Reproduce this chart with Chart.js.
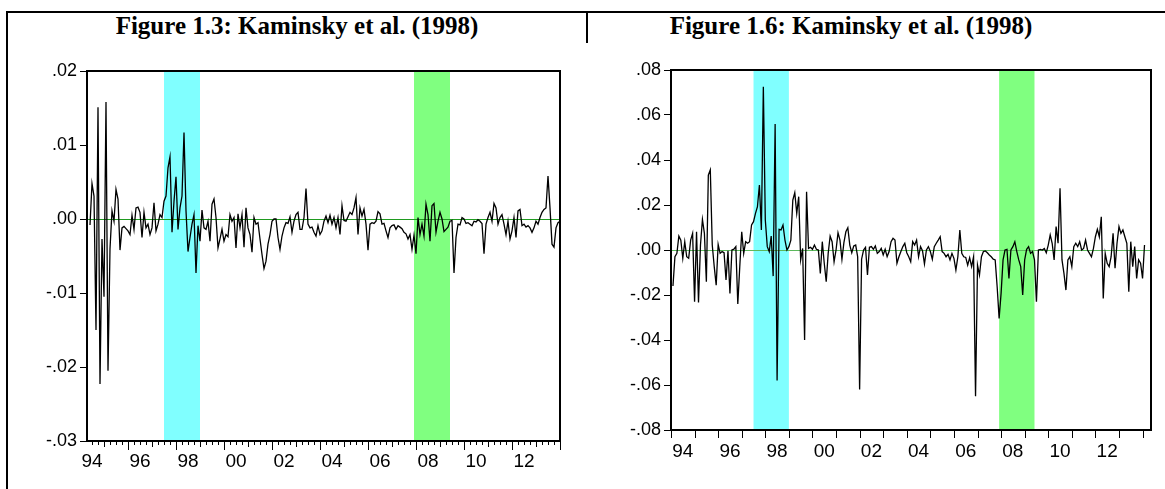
<!DOCTYPE html>
<html>
<head>
<meta charset="utf-8">
<script src="https://cdn.jsdelivr.net/npm/chart.js@4.4.1/dist/chart.umd.min.js"></script>
<style>
  html, body { margin: 0; padding: 0; background: #fff; }
  body { width: 1165px; height: 489px; position: relative; overflow: hidden; }
  .rule { position: absolute; background: #000; }
  .title { position: absolute; top: 12px; font: bold 25px "Liberation Serif", "Times New Roman", serif; color: #000; text-align: center; white-space: nowrap; }
  .box { position: absolute; top: 50px; width: 575px; height: 439px; }
</style>
</head>
<body>
<div class="rule" style="left:6px;top:11px;width:1159px;height:2px"></div>
<div class="rule" style="left:6px;top:11px;width:2px;height:478px"></div>
<div class="rule" style="left:586px;top:11px;width:2px;height:32px"></div>
<div class="title" style="left:8px;width:578px">Figure 1.3: Kaminsky et al. (1998)</div>
<div class="title" style="left:588px;width:526px">Figure 1.6: Kaminsky et al. (1998)</div>
<div class="box" style="left:0"><canvas id="chartLeft"></canvas></div>
<div class="box" style="left:590px"><canvas id="chartRight"></canvas></div>

<script>
/* ================================
   DATA
================================ */
const BASE_YEAR = 1994;

// x-axis labels (even years), placed mid-year
const labelYears = [1994, 1996, 1998, 2000, 2002, 2004, 2006, 2008, 2010, 2012];
const tickLabels = ['94', '96', '98', '00', '02', '04', '06', '08', '10', '12'];

// shaded crisis periods [from, to]
const cyanBand = ['1997-07', '1999-01'];
const greenBand = ['2007-12', '2009-06'];

// Figure 1.3 : monthly, starts 1994-06
const leftStart = '1994-06';
const leftSeries = [
  -0.0008, 0.0048, 0.0031, -0.0150, 0.0151, -0.0223, -0.0027, -0.0105, 0.0158, -0.0205,
  -0.0040, 0.0011, -0.0003, 0.0040, 0.0027, -0.0042, -0.0012, -0.0010, -0.0013, -0.0016,
  -0.0021, 0.0005, -0.0014, 0.0015, 0.0016, 0.0009, -0.0025, 0.0009, -0.0012, -0.0007,
  -0.0021, -0.0012, 0.0022, -0.0016, -0.0007, 0.0006, 0.0002, 0.0024, 0.0031, 0.0069,
  0.0084, -0.0018, 0.0024, 0.0057, -0.0014, 0.0015, 0.0031, 0.0117, 0.0011, -0.0044,
  -0.0025, -0.0007, 0.0006, -0.0073, -0.0009, -0.0030, 0.0012, -0.0012, -0.0014, -0.0003,
  -0.0030, 0.0020, 0.0027, 0.0002, -0.0039, -0.0027, -0.0014, -0.0030, -0.0021, -0.0024,
  0.0006, -0.0003, 0.0002, -0.0039, 0.0007, -0.0012, 0.0006, -0.0038, 0.0015, -0.0012,
  -0.0021, -0.0045, 0.0002, -0.0007, -0.0005, -0.0027, -0.0048, -0.0067, -0.0057, -0.0034,
  -0.0021, -0.0003, 0.0000, 0.0000, -0.0025, -0.0041, -0.0023, -0.0012, -0.0005, -0.0006,
  0.0003, -0.0018, -0.0003, 0.0006, 0.0009, -0.0014, -0.0014, 0.0002, 0.0041, -0.0007,
  -0.0012, -0.0011, -0.0018, -0.0023, -0.0009, -0.0021, -0.0016, -0.0003, 0.0004, -0.0005,
  0.0005, -0.0007, 0.0002, -0.0012, 0.0002, -0.0021, 0.0018, -0.0002, -0.0003, 0.0003,
  0.0009, 0.0006, 0.0015, 0.0029, -0.0021, 0.0015, 0.0004, 0.0013, -0.0007, -0.0042,
  -0.0007, -0.0005, -0.0006, -0.0003, 0.0010, 0.0007, -0.0007, -0.0006, -0.0016, -0.0025,
  -0.0012, -0.0009, -0.0008, -0.0014, -0.0009, -0.0011, -0.0013, -0.0018, -0.0020, -0.0027,
  -0.0021, -0.0041, -0.0022, -0.0047, 0.0002, -0.0021, -0.0007, -0.0023, 0.0020, 0.0006,
  -0.0030, 0.0018, 0.0021, -0.0018, -0.0003, 0.0009, 0.0000, -0.0017, -0.0014, -0.0011,
  -0.0003, -0.0002, -0.0073, -0.0025, -0.0007, -0.0008, 0.0002, 0.0000, -0.0006, -0.0005,
  -0.0007, -0.0009, -0.0003, -0.0004, -0.0001, -0.0003, -0.0006, -0.0047, -0.0007, 0.0002,
  0.0009, -0.0003, 0.0021, 0.0015, -0.0007, 0.0002, 0.0006, -0.0007, -0.0021, -0.0003,
  -0.0027, -0.0016, 0.0002, -0.0025, 0.0011, 0.0013, -0.0009, -0.0007, -0.0011, -0.0009,
  -0.0012, -0.0018, -0.0012, -0.0003, -0.0007, 0.0002, 0.0009, 0.0013, 0.0015, 0.0058,
  0.0015, -0.0034, -0.0038, -0.0012, -0.0005, -0.0003
];

// Figure 1.6 : monthly, starts 1994-02
const rightStart = '1994-02';
const rightSeries = [
  -0.0160, -0.0030, -0.0015, 0.0062, 0.0044, -0.0037, 0.0037, -0.0030, -0.0037, 0.0044,
  0.0074, -0.0230, 0.0081, -0.0233, 0.0022, 0.0136, 0.0074, -0.0141, 0.0333, 0.0356,
  0.0022, -0.0074, -0.0156, 0.0025, -0.0015, -0.0007, -0.0012, -0.0133, -0.0004, -0.0193,
  0.0000, 0.0004, 0.0015, -0.0240, -0.0074, 0.0081, -0.0015, 0.0037, 0.0030, 0.0037,
  0.0111, 0.0126, 0.0163, 0.0193, 0.0289, 0.0089, 0.0726, 0.0133, 0.0015, -0.0007,
  0.0062, -0.0116, 0.0560, -0.0580, 0.0092, 0.0089, 0.0111, 0.0044, 0.0000, 0.0015,
  0.0044, 0.0222, 0.0255, 0.0163, 0.0237, -0.0044, 0.0007, -0.0400, 0.0259, 0.0007,
  0.0012, 0.0003, 0.0022, 0.0003, 0.0000, -0.0104, 0.0037, -0.0059, -0.0141, -0.0015,
  0.0062, 0.0037, -0.0052, 0.0000, 0.0077, 0.0044, -0.0041, 0.0033, 0.0081, 0.0099,
  0.0022, -0.0012, 0.0018, 0.0022, -0.0030, -0.0620, -0.0041, 0.0000, 0.0012, -0.0111,
  0.0012, 0.0015, 0.0003, 0.0018, -0.0015, -0.0007, 0.0007, -0.0022, 0.0003, -0.0030,
  -0.0007, 0.0037, 0.0052, 0.0044, -0.0059, -0.0030, -0.0007, 0.0015, 0.0030, -0.0012,
  -0.0030, -0.0052, 0.0037, 0.0022, 0.0044, -0.0030, 0.0015, -0.0003, -0.0062, 0.0000,
  0.0015, -0.0007, -0.0041, 0.0015, 0.0030, 0.0044, 0.0059, -0.0007, -0.0015, -0.0030,
  -0.0019, -0.0044, -0.0015, -0.0037, -0.0089, -0.0030, 0.0089, -0.0015, -0.0030, -0.0033,
  -0.0067, -0.0034, -0.0074, -0.0030, -0.0650, -0.0067, -0.0111, -0.0030, -0.0007, -0.0004,
  -0.0012, -0.0022, -0.0030, -0.0041, -0.0044, -0.0163, -0.0304, -0.0193, -0.0044, 0.0000,
  0.0003, -0.0126, 0.0000, 0.0015, 0.0037, -0.0007, -0.0044, -0.0074, -0.0200, -0.0044,
  0.0003, 0.0015, -0.0015, -0.0007, -0.0044, -0.0230, 0.0000, 0.0003, 0.0000, 0.0007,
  -0.0012, 0.0022, 0.0067, 0.0030, -0.0044, 0.0104, 0.0030, 0.0274, -0.0044, -0.0104,
  -0.0178, -0.0044, -0.0030, -0.0074, 0.0015, 0.0030, 0.0015, 0.0037, 0.0000, 0.0007,
  0.0044, 0.0000, -0.0015, -0.0030, 0.0007, 0.0059, 0.0092, 0.0059, 0.0148, -0.0215,
  -0.0015, -0.0059, -0.0074, -0.0030, 0.0074, -0.0081, 0.0030, 0.0104, 0.0074, 0.0089,
  0.0059, 0.0030, -0.0185, 0.0037, -0.0074, 0.0015, -0.0126, -0.0044, -0.0059, -0.0126,
  0.0022
];

/* ================================
   HELPERS
================================ */
function monthIndex(s) {
  const [yy, mm] = s.split('-').map(Number);
  return (yy - BASE_YEAR) * 12 + (mm - 1);
}

function toPoints(series, start) {
  const m0 = monthIndex(start);
  return series.map((v, i) => ({ x: m0 + i, y: v }));
}

function fmtY(v) {
  const r = Math.round(v * 100) / 100;
  const s = Math.abs(r).toFixed(2).replace(/^0/, '');
  return (r < 0 ? '-' : '') + s;
}

// bands, zero line, plot frame and x tick marks
const decorPlugin = {
  id: 'decor',
  beforeDatasetsDraw(chart, args, opts) {
    const { ctx, chartArea: a, scales: { x, y } } = chart;
    ctx.save();
    opts.bands.forEach(b => {
      const x0 = Math.max(a.left, x.getPixelForValue(monthIndex(b.range[0])));
      const x1 = Math.min(a.right, x.getPixelForValue(monthIndex(b.range[1])));
      ctx.fillStyle = b.color;
      ctx.fillRect(x0, a.top, x1 - x0, a.bottom - a.top);
    });
    const y0 = Math.round(y.getPixelForValue(0)) + 0.5;
    ctx.strokeStyle = opts.zeroColor;
    ctx.lineWidth = 1;
    ctx.beginPath();
    ctx.moveTo(a.left, y0);
    ctx.lineTo(a.right, y0);
    ctx.stroke();
    ctx.restore();
  },
  afterDraw(chart, args, opts) {
    const { ctx, chartArea: a, scales: { x } } = chart;
    ctx.save();
    ctx.strokeStyle = '#000';
    ctx.lineWidth = 1;
    const first = Math.ceil(x.min / opts.tickStep) * opts.tickStep;
    for (let m = first; m <= x.max; m += opts.tickStep) {
      const px = Math.round(x.getPixelForValue(m)) + 0.5;
      const len = opts.tickLen(m);
      ctx.beginPath();
      ctx.moveTo(px, a.bottom);
      ctx.lineTo(px, a.bottom + len);
      ctx.stroke();
    }
    ctx.lineWidth = 2;
    ctx.strokeRect(Math.round(a.left), Math.round(a.top), Math.round(a.right - a.left), Math.round(a.bottom - a.top));
    ctx.restore();
  }
};

function makeChart(id, cfg) {
  return new Chart(document.getElementById(id), {
    type: 'line',
    data: {
      datasets: [{
        data: toPoints(cfg.series, cfg.start),
        borderColor: '#000',
        borderWidth: 1.3,
        pointRadius: 0,
        tension: 0,
        fill: false
      }]
    },
    options: {
      responsive: true,
      maintainAspectRatio: false,
      animation: false,
      layout: { padding: cfg.padding },
      plugins: {
        legend: { display: false },
        tooltip: { enabled: false },
        decor: {
          bands: [
            { range: cyanBand, color: '#80ffff' },
            { range: greenBand, color: '#80ff80' }
          ],
          zeroColor: cfg.zeroColor,
          tickStep: cfg.tickStep,
          tickLen: cfg.tickLen
        }
      },
      scales: {
        x: {
          type: 'linear',
          min: cfg.xMin,
          max: cfg.xMax,
          afterBuildTicks: s => { s.ticks = labelYears.map(yr => ({ value: (yr - BASE_YEAR) * 12 + 6 })); },
          afterFit: s => { s.height = cfg.xHeight; },
          grid: { display: true, drawOnChartArea: false, drawTicks: false, color: 'transparent' },
          border: { display: false },
          ticks: {
            autoSkip: false,
            maxRotation: 0,
            padding: cfg.xPad,
            color: '#000',
            font: { family: '"Liberation Sans", Arial, sans-serif', size: 19 },
            callback: (v, i) => tickLabels[i]
          }
        },
        y: {
          min: cfg.yMin,
          max: cfg.yMax,
          afterBuildTicks: s => {
            const out = [];
            for (let v = cfg.yMin; v <= cfg.yMax + 1e-9; v += cfg.yStep) out.push({ value: Math.round(v * 1000) / 1000 });
            s.ticks = out;
          },
          afterFit: s => { s.width = cfg.yWidth; },
          grid: { display: true, drawOnChartArea: false, drawTicks: true, tickLength: 7, tickColor: '#000', tickWidth: 1 },
          border: { display: false },
          ticks: {
            padding: 3,
            color: '#000',
            font: { family: '"Liberation Sans", Arial, sans-serif', size: 18 },
            callback: v => fmtY(v)
          }
        }
      }
    },
    plugins: [decorPlugin]
  });
}

/* ================================
   CHARTS
================================ */
makeChart('chartLeft', {
  series: leftSeries,
  start: leftStart,
  xMin: 3.5, xMax: 240,
  yMin: -0.03, yMax: 0.02, yStep: 0.01,
  yWidth: 87, xHeight: 48, xPad: 9,
  padding: { top: 21, right: 15, left: 0, bottom: 0 },
  zeroColor: '#1f9a1f',
  tickStep: 3,
  tickLen: m => (m % 24 === 0 ? 9 : (m % 12 === 0 ? 6 : 4))
});

makeChart('chartRight', {
  series: rightSeries,
  start: rightStart,
  xMin: 0, xMax: 244.3,
  yMin: -0.08, yMax: 0.08, yStep: 0.02,
  yWidth: 81, xHeight: 59, xPad: 10,
  padding: { top: 20, right: 14, left: 0, bottom: 0 },
  zeroColor: '#5cb85c',
  tickStep: 12,
  tickLen: () => 8
});
</script>
</body>
</html>
